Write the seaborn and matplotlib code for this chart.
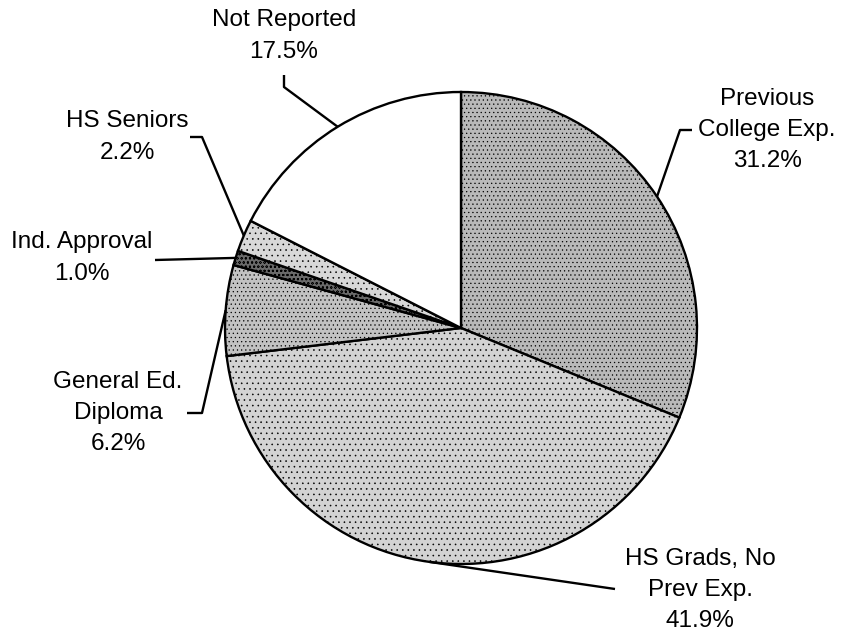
import numpy as np
import matplotlib
matplotlib.use("Agg")
import matplotlib.pyplot as plt
import seaborn as sns

categories = ["Previous\nCollege Exp.", "HS Grads, No\nPrev Exp.", "General Ed.\nDiploma",
              "Ind. Approval", "HS Seniors", "Not Reported"]
shares = [31.2, 41.9, 6.2, 1.0, 2.2, 17.5]
pct_labels = ["31.2%", "41.9%", "6.2%", "1.0%", "2.2%", "17.5%"]
fills = ["#b9b9b9", "#d3d3d3", "#c2c2c2", "#6a6a6a", "#d8d8d8", "#ffffff"]
hatches = ["....", "...", "....", "oooo", "...", ""]

sns.set_theme(style="white")
plt.rcParams["font.family"] = ["Liberation Sans", "DejaVu Sans"]
plt.rcParams["hatch.linewidth"] = 0.4

W, H = 841, 636
CX, CY, R = 461, 328, 236  # pie centre and radius in pixels


def px(x, y):
    # pixel position (from top-left) -> data units of a unit-radius pie
    return (x - CX) / R, (CY - y) / R


fig = plt.figure(figsize=(W / 100, H / 100), dpi=100)
ax = fig.add_axes([0, 0, 1, 1])

wedges, _ = ax.pie(shares, startangle=90, counterclock=False, radius=1,
                   colors=fills,
                   wedgeprops=dict(edgecolor="black", linewidth=1.7))
for w, h in zip(wedges, hatches):
    w.set_hatch(h)

ax.set_aspect("auto")
ax.set_xlim(-CX / R, (W - CX) / R)
ax.set_ylim(-(H - CY) / R, CY / R)
ax.axis("off")

# label text centre and leader path (elbow points) in pixels
label_pos = [(767, 130), (700, 590), (118, 413), (82, 258), (127, 137), (284, 36)]
leader_pts = [
    [(680, 130), (692, 130)],
    [(615, 589)],
    [(202, 413), (187, 413)],
    [(155, 260)],
    [(202, 137), (190, 137)],
    [(284, 87), (284, 75)],
]

for w, name, pct, pos, pts in zip(wedges, categories, pct_labels, label_pos, leader_pts):
    mid = np.deg2rad((w.theta1 + w.theta2) / 2)
    xs = [np.cos(mid)] + [px(*p)[0] for p in pts]
    ys = [np.sin(mid)] + [px(*p)[1] for p in pts]
    ax.plot(xs, ys, color="black", lw=1.7, solid_capstyle="butt")
    tx, ty = px(*pos)
    ax.text(tx, ty, f"{name}\n{pct}", ha="center", va="center", fontsize=17.5,
            linespacing=1.55, color="black")

fig.savefig("out.png", dpi=100, facecolor="white")
